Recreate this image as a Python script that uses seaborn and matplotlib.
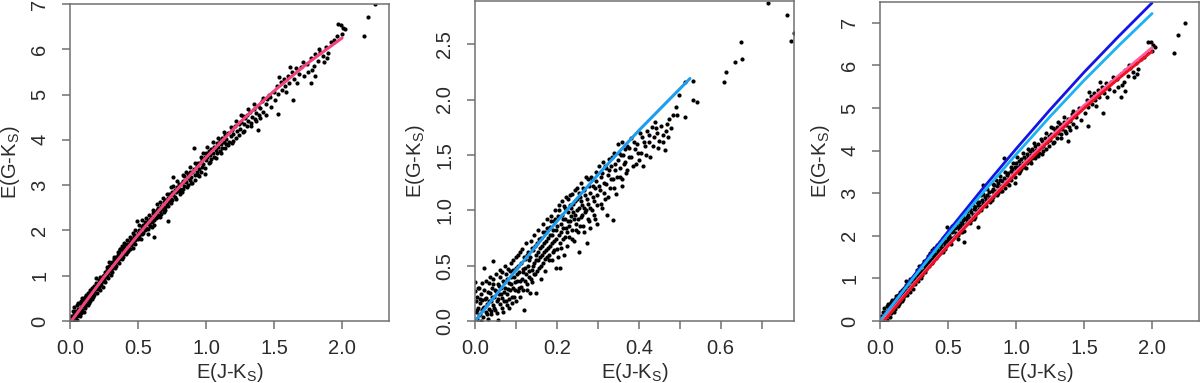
import matplotlib
matplotlib.use("Agg")
import matplotlib.pyplot as plt
import seaborn as sns
import pandas as pd

sns.set_style("ticks")
plt.rcParams["font.family"] = ["Liberation Sans", "DejaVu Sans"]
plt.rcParams["mathtext.default"] = "regular"

points_a = [
    (0.00, 0.05), (0.01, 0.12), (0.01, 0.00), (0.02, 0.22), (0.02, 0.03), (0.03, 0.15), (0.03, 0.30),
    (0.04, 0.08), (0.04, 0.21), (0.05, 0.35), (0.05, 0.12), (0.06, 0.27), (0.06, 0.18), (0.07, 0.40),
    (0.07, 0.22), (0.08, 0.31), (0.08, 0.45), (0.09, 0.25), (0.09, 0.38), (0.10, 0.47), (0.10, 0.33),
    (0.11, 0.52), (0.11, 0.38), (0.12, 0.44), (0.12, 0.58), (0.13, 0.50), (0.13, 0.36), (0.14, 0.62),
    (0.14, 0.49), (0.15, 0.55), (0.15, 0.68), (0.16, 0.60), (0.16, 0.48), (0.17, 0.73), (0.17, 0.63),
    (0.18, 0.78), (0.18, 0.66), (0.19, 0.72), (0.19, 0.85), (0.20, 0.70), (0.20, 0.82), (0.21, 0.91),
    (0.22, 0.80), (0.23, 0.95), (0.24, 0.88),
    (0.25, 1.02), (0.25, 0.90), (0.26, 1.08), (0.26, 0.97), (0.27, 1.12), (0.27, 0.99), (0.28, 1.05),
    (0.28, 1.18), (0.29, 1.10), (0.29, 1.22), (0.30, 1.13), (0.30, 1.28), (0.31, 1.18), (0.31, 1.31),
    (0.32, 1.20), (0.32, 1.36), (0.33, 1.27), (0.33, 1.16), (0.34, 1.33), (0.34, 1.42), (0.35, 1.30),
    (0.35, 1.45), (0.36, 1.38), (0.36, 1.52), (0.37, 1.40), (0.37, 1.58), (0.38, 1.45), (0.38, 1.36),
    (0.39, 1.55), (0.39, 1.62), (0.40, 1.50), (0.40, 1.66), (0.41, 1.57), (0.42, 1.52), (0.42, 1.70),
    (0.43, 1.64), (0.44, 1.75), (0.44, 1.60), (0.45, 1.80), (0.45, 1.68), (0.46, 1.72), (0.47, 1.85),
    (0.47, 1.90), (0.48, 1.78), (0.49, 2.20), (0.49, 1.88),
    (0.50, 1.95), (0.50, 1.82), (0.51, 2.02), (0.51, 1.88), (0.52, 1.96), (0.53, 2.08), (0.53, 1.92),
    (0.54, 2.12), (0.55, 2.00), (0.55, 2.18), (0.56, 2.06), (0.57, 2.20), (0.57, 2.03), (0.58, 2.15),
    (0.59, 2.25), (0.59, 2.10), (0.60, 2.30), (0.60, 2.18), (0.61, 2.38), (0.62, 2.24), (0.62, 1.86),
    (0.63, 2.40), (0.63, 2.28), (0.64, 2.45), (0.65, 2.35), (0.65, 2.50), (0.66, 2.42), (0.67, 2.55),
    (0.67, 2.36), (0.68, 2.48), (0.69, 2.62), (0.70, 2.52), (0.70, 2.68), (0.71, 2.58), (0.72, 2.72),
    (0.72, 2.20), (0.73, 2.64), (0.73, 2.80), (0.74, 2.70), (0.75, 2.85),
    (0.75, 2.68), (0.76, 2.78), (0.76, 3.19), (0.77, 2.90), (0.77, 2.74), (0.78, 2.84), (0.79, 2.95),
    (0.80, 2.86), (0.80, 3.02), (0.81, 2.92), (0.82, 3.05), (0.82, 2.84), (0.83, 3.10), (0.84, 2.98),
    (0.84, 3.20), (0.85, 3.06), (0.86, 3.16), (0.86, 2.95), (0.87, 3.25), (0.88, 3.12), (0.88, 3.30),
    (0.89, 3.18), (0.90, 3.05), (0.90, 3.28), (0.91, 3.82), (0.91, 3.36), (0.92, 3.22), (0.93, 3.42),
    (0.93, 3.30), (0.94, 3.48), (0.95, 3.35), (0.95, 3.20), (0.96, 3.52), (0.97, 3.40), (0.97, 3.58),
    (0.98, 3.46), (0.99, 3.62), (0.99, 3.38), (1.00, 3.55), (1.00, 3.70),
    (1.01, 3.62), (1.02, 3.48), (1.02, 3.75), (1.03, 3.66), (1.04, 3.80), (1.04, 3.58), (1.05, 3.72),
    (1.06, 3.85), (1.06, 3.62), (1.07, 3.78), (1.08, 3.92), (1.08, 3.70), (1.09, 3.84), (1.10, 3.98),
    (1.10, 3.76), (1.11, 3.90), (1.12, 4.05), (1.12, 3.82), (1.13, 3.96), (1.14, 4.10), (1.15, 3.90),
    (1.15, 4.02), (1.16, 4.15), (1.17, 3.95), (1.18, 4.08), (1.19, 4.22), (1.19, 3.92), (1.20, 4.12),
    (1.21, 4.30), (1.22, 4.05), (1.23, 4.20), (1.24, 4.35),
    (1.25, 4.25), (1.26, 4.40), (1.27, 4.52), (1.27, 4.18), (1.28, 4.36), (1.29, 4.48), (1.30, 4.30),
    (1.30, 4.55), (1.31, 4.42), (1.32, 4.62), (1.33, 4.38), (1.34, 4.50), (1.35, 4.68), (1.36, 4.45),
    (1.37, 4.60), (1.38, 4.75), (1.38, 4.22), (1.39, 4.55), (1.40, 4.70), (1.41, 4.85), (1.42, 4.62),
    (1.44, 4.80), (1.45, 4.90), (1.47, 4.95), (1.53, 4.58),
    (1.50, 5.05), (1.51, 4.88), (1.52, 5.20), (1.53, 5.02), (1.55, 5.28), (1.56, 5.10), (1.57, 5.35),
    (1.58, 5.18), (1.60, 5.42), (1.61, 5.25), (1.64, 4.88), (1.63, 5.50), (1.65, 5.35), (1.66, 5.58),
    (1.68, 5.45), (1.70, 5.60), (1.72, 5.40), (1.74, 5.68),
    (1.77, 5.26), (1.77, 5.80), (1.78, 5.55), (1.80, 5.41), (1.80, 5.90), (1.82, 5.75), (1.84, 5.95),
    (1.86, 5.85), (1.89, 5.80), (1.88, 6.05), (1.90, 5.92), (1.92, 6.15), (1.96, 6.30), (1.97, 6.56),
    (1.99, 6.54), (2.00, 6.33), (2.02, 6.44), (2.01, 6.48),
    (2.16, 6.29), (2.19, 6.72), (2.24, 7.00),
    (0.02, 0.10), (0.03, 0.00), (0.05, 0.02), (0.06, 0.40), (0.07, 0.10), (0.08, 0.18), (0.09, 0.50),
    (0.10, 0.20), (0.11, 0.28), (0.12, 0.35), (0.13, 0.62), (0.14, 0.40), (0.15, 0.45), (0.16, 0.72),
    (0.17, 0.52), (0.18, 0.58), (0.19, 0.95), (0.20, 0.62), (0.21, 0.75), (0.22, 0.98), (0.22, 0.68),
    (0.23, 0.82), (0.24, 1.00), (0.24, 0.76), (0.26, 0.86), (0.27, 1.20), (0.28, 0.95), (0.29, 1.30),
    (0.30, 1.02), (0.31, 1.08), (0.32, 1.42), (0.33, 1.36), (0.34, 1.22), (0.35, 1.52), (0.36, 1.28),
    (0.37, 1.60), (0.38, 1.66), (0.39, 1.42), (0.40, 1.72), (0.41, 1.48), (0.42, 1.78), (0.43, 1.55),
    (0.44, 1.86), (0.46, 1.62), (0.46, 1.95), (0.48, 2.00), (0.48, 1.70),
    (0.51, 2.12), (0.52, 1.80), (0.53, 2.22), (0.54, 1.95), (0.56, 2.28), (0.57, 1.92), (0.58, 2.35),
    (0.60, 2.08), (0.61, 2.45), (0.62, 2.12), (0.64, 2.58), (0.64, 2.30), (0.66, 2.62), (0.66, 2.30),
    (0.68, 2.72), (0.69, 2.40), (0.70, 2.45), (0.71, 2.80), (0.72, 2.55), (0.74, 2.95), (0.74, 2.60),
    (0.76, 2.98), (0.78, 2.70), (0.79, 3.10), (0.81, 2.80), (0.83, 3.22), (0.83, 2.92), (0.85, 3.30),
    (0.87, 3.00), (0.88, 3.40), (0.89, 3.05), (0.92, 3.50), (0.92, 3.12), (0.94, 3.22), (0.96, 3.62),
    (0.96, 3.30), (0.98, 3.72), (0.99, 3.25),
    (1.01, 3.85), (1.03, 3.52), (1.05, 3.95), (1.07, 3.60), (1.09, 4.05), (1.11, 3.70), (1.13, 4.18),
    (1.14, 3.82), (1.16, 3.88), (1.18, 4.28), (1.20, 3.98), (1.22, 4.42), (1.24, 4.10), (1.26, 4.55),
    (1.28, 4.20), (1.31, 4.68), (1.33, 4.30), (1.35, 4.80), (1.37, 4.42), (1.40, 4.48), (1.42, 4.92),
    (1.44, 4.55), (1.46, 5.00), (1.48, 4.72),
    (1.54, 5.38), (1.59, 5.05), (1.62, 5.60), (1.67, 5.25), (1.71, 5.72), (1.75, 5.50), (1.79, 5.62),
    (1.83, 6.00), (1.87, 5.72), (1.94, 6.20),
]

points_b = [
    (0.000, 0.35), (0.000, 0.27), (0.002, 0.18), (0.003, 0.08), (0.005, 0.02), (0.006, 0.22), (0.008, 0.12),
    (0.010, 0.05), (0.010, 0.30), (0.012, 0.16), (0.014, 0.00), (0.015, 0.24), (0.017, 0.10), (0.018, 0.19),
    (0.020, 0.04), (0.021, 0.28), (0.023, 0.13), (0.022, 0.48), (0.026, 0.08), (0.028, 0.21), (0.030, 0.15),
    (0.032, 0.02), (0.033, 0.34), (0.035, 0.11), (0.037, 0.25), (0.039, 0.18), (0.040, 0.06), (0.042, 0.30),
    (0.044, 0.14), (0.045, 0.38), (0.047, 0.22), (0.045, 0.54), (0.050, 0.10), (0.052, 0.27), (0.053, 0.18),
    (0.055, 0.33), (0.057, 0.01), (0.058, 0.24), (0.060, 0.40), (0.062, 0.15), (0.064, 0.30), (0.065, 0.21),
    (0.067, 0.44), (0.069, 0.08), (0.070, 0.35), (0.072, 0.26), (0.074, 0.50), (0.076, 0.18), (0.078, 0.38),
    (0.080, 0.29), (0.082, 0.12), (0.085, 0.45), (0.088, 0.33), (0.090, 0.22), (0.093, 0.55), (0.095, 0.40),
    (0.098, 0.28),
    (0.100, 0.48), (0.101, 0.18), (0.103, 0.36), (0.105, 0.60), (0.107, 0.30), (0.108, 0.44), (0.110, 0.22),
    (0.112, 0.52), (0.114, 0.38), (0.115, 0.65), (0.117, 0.28), (0.118, 0.47), (0.120, 0.10), (0.122, 0.56),
    (0.124, 0.42), (0.125, 0.70), (0.127, 0.33), (0.129, 0.50), (0.130, 0.62), (0.132, 0.40), (0.134, 0.25),
    (0.135, 0.58), (0.137, 0.72), (0.139, 0.46), (0.140, 0.35), (0.142, 0.64), (0.144, 0.52), (0.145, 0.78),
    (0.147, 0.42), (0.149, 0.60), (0.150, 0.25), (0.152, 0.70), (0.154, 0.55), (0.155, 0.82), (0.157, 0.48),
    (0.159, 0.66), (0.160, 0.38), (0.162, 0.75), (0.164, 0.60), (0.165, 0.88), (0.167, 0.52), (0.169, 0.70),
    (0.170, 0.45), (0.172, 0.80), (0.174, 0.64), (0.175, 0.92), (0.177, 0.58), (0.179, 0.75), (0.180, 0.55),
    (0.182, 0.85), (0.184, 0.68), (0.185, 0.95), (0.187, 0.55), (0.189, 0.78), (0.190, 0.62), (0.192, 0.90),
    (0.194, 0.72), (0.195, 1.00), (0.197, 0.48), (0.199, 0.82),
    (0.200, 0.65), (0.202, 0.95), (0.204, 0.78), (0.206, 1.05), (0.207, 0.48), (0.208, 0.70), (0.210, 0.88),
    (0.212, 1.08), (0.214, 0.74), (0.216, 0.92), (0.218, 0.60), (0.220, 1.02), (0.222, 0.84), (0.224, 0.68),
    (0.226, 1.10), (0.228, 0.90), (0.230, 0.76), (0.232, 1.05), (0.234, 0.95), (0.236, 0.82), (0.238, 1.15),
    (0.240, 0.98), (0.242, 0.72), (0.244, 1.08), (0.246, 0.88), (0.248, 1.20), (0.250, 1.00), (0.252, 0.80),
    (0.254, 0.62), (0.256, 1.12), (0.258, 0.94), (0.260, 1.25), (0.262, 1.05), (0.264, 0.86), (0.266, 1.18),
    (0.268, 0.98), (0.270, 1.30), (0.273, 0.70), (0.274, 1.10), (0.276, 0.92), (0.278, 1.22), (0.280, 1.02),
    (0.282, 0.84), (0.285, 1.28), (0.288, 1.12), (0.290, 0.96), (0.293, 1.20), (0.295, 1.35), (0.297, 1.05),
    (0.299, 0.88),
    (0.302, 1.40), (0.305, 1.18), (0.308, 1.30), (0.310, 1.02), (0.312, 1.44), (0.315, 1.25), (0.318, 1.10),
    (0.320, 1.38), (0.322, 0.96), (0.325, 1.32), (0.328, 1.46), (0.330, 1.20), (0.333, 1.40), (0.336, 0.91),
    (0.338, 1.28), (0.340, 1.52), (0.343, 1.36), (0.345, 1.15), (0.348, 1.45), (0.350, 1.60), (0.353, 1.30),
    (0.356, 1.50), (0.358, 1.22), (0.360, 1.62), (0.363, 1.42), (0.366, 1.55), (0.368, 1.34), (0.372, 1.58),
    (0.375, 1.48), (0.380, 1.65), (0.385, 1.40), (0.390, 1.55), (0.395, 1.60),
    (0.400, 1.45), (0.402, 1.70), (0.405, 1.52), (0.408, 1.66), (0.410, 1.40), (0.415, 1.58), (0.420, 1.72),
    (0.424, 1.62), (0.428, 1.48), (0.432, 1.75), (0.436, 1.66), (0.440, 1.80), (0.445, 1.70), (0.450, 1.63),
    (0.455, 1.76), (0.460, 1.68), (0.464, 1.54), (0.468, 1.78), (0.474, 1.82), (0.478, 1.74), (0.483, 1.86),
    (0.491, 1.93), (0.494, 1.86), (0.499, 2.04), (0.513, 2.16), (0.513, 1.84), (0.532, 2.17), (0.532, 2.00),
    (0.543, 1.98),
    (0.608, 2.16), (0.613, 2.25), (0.635, 2.34), (0.649, 2.52), (0.653, 2.37), (0.715, 2.875), (0.762, 2.76),
    (0.771, 2.53), (0.778, 2.60),
    (0.004, 0.10), (0.007, 0.30), (0.011, 0.20), (0.013, 0.06), (0.016, 0.34), (0.019, 0.12), (0.024, 0.20),
    (0.027, 0.36), (0.029, 0.06), (0.031, 0.26), (0.034, 0.18), (0.036, 0.40), (0.038, 0.09), (0.041, 0.22),
    (0.043, 0.33), (0.046, 0.12), (0.049, 0.28), (0.051, 0.42), (0.054, 0.07), (0.056, 0.20), (0.059, 0.32),
    (0.061, 0.46), (0.063, 0.24), (0.066, 0.12), (0.068, 0.36), (0.071, 0.18), (0.073, 0.30), (0.075, 0.42),
    (0.077, 0.24), (0.079, 0.14), (0.081, 0.47), (0.083, 0.34), (0.084, 0.20), (0.086, 0.28), (0.087, 0.52),
    (0.089, 0.40), (0.091, 0.16), (0.092, 0.30), (0.094, 0.46), (0.096, 0.22), (0.097, 0.35), (0.099, 0.58),
    (0.102, 0.42), (0.104, 0.27), (0.106, 0.50), (0.109, 0.36), (0.111, 0.62), (0.113, 0.31), (0.116, 0.44),
    (0.119, 0.58), (0.121, 0.36), (0.123, 0.48), (0.126, 0.28), (0.128, 0.60), (0.131, 0.45), (0.133, 0.55),
    (0.136, 0.38), (0.138, 0.66), (0.141, 0.50), (0.143, 0.42), (0.146, 0.68), (0.148, 0.55), (0.151, 0.45),
    (0.153, 0.62), (0.156, 0.74), (0.158, 0.58), (0.161, 0.50), (0.163, 0.68), (0.166, 0.80), (0.168, 0.62),
    (0.171, 0.56), (0.173, 0.72), (0.176, 0.84), (0.178, 0.66), (0.181, 0.60), (0.183, 0.78), (0.186, 0.90),
    (0.188, 0.70), (0.191, 0.82), (0.193, 0.64), (0.196, 0.92), (0.198, 0.74),
    (0.201, 0.86), (0.203, 0.58), (0.205, 1.00), (0.209, 0.80), (0.211, 0.66), (0.213, 0.96), (0.215, 0.84),
    (0.217, 1.04), (0.219, 0.76), (0.221, 0.92), (0.223, 1.12), (0.225, 0.80), (0.227, 0.98), (0.229, 0.86),
    (0.231, 1.14), (0.233, 0.90), (0.235, 1.02), (0.237, 0.74), (0.239, 1.06), (0.241, 0.92), (0.243, 1.18),
    (0.245, 0.96), (0.247, 0.82), (0.249, 1.10), (0.251, 0.92), (0.253, 1.16), (0.255, 1.02), (0.257, 0.86),
    (0.259, 1.08), (0.261, 0.96), (0.263, 1.20), (0.265, 1.02), (0.267, 0.80), (0.269, 1.14), (0.271, 1.00),
    (0.275, 1.28), (0.277, 1.06), (0.279, 0.90), (0.281, 1.16), (0.283, 1.30), (0.286, 1.00), (0.289, 1.22),
    (0.291, 1.08), (0.294, 0.92), (0.296, 1.26), (0.298, 1.14),
    (0.303, 1.22), (0.307, 1.06), (0.311, 1.34), (0.314, 1.16), (0.317, 1.40), (0.321, 1.24), (0.324, 1.12),
    (0.327, 1.36), (0.331, 1.28), (0.335, 1.48), (0.339, 1.20), (0.342, 1.42), (0.346, 1.30), (0.352, 1.52),
    (0.355, 1.38), (0.359, 1.28), (0.362, 1.50), (0.367, 1.44), (0.371, 1.36), (0.377, 1.56), (0.382, 1.48),
    (0.388, 1.62), (0.393, 1.42), (0.398, 1.52),
    (0.412, 1.62), (0.418, 1.50), (0.426, 1.68), (0.434, 1.58), (0.442, 1.74), (0.448, 1.56), (0.458, 1.62),
    (0.466, 1.72), (0.472, 1.66),
]

# fitted relations, read at a few abscissae
fit1_x = [0.01, 0.25, 0.5, 0.75, 1.0, 1.25, 1.5, 1.75, 2.0]
fit1_y = [0.0, 0.97, 1.90, 2.78, 3.61, 4.39, 5.08, 5.70, 6.25]

fit2_x = [0.0, 0.1, 0.2, 0.3, 0.4, 0.525]
fit2_y = [0.0, 0.46, 0.90, 1.32, 1.72, 2.19]

law_x = [0.0, 0.25, 0.5, 0.75, 1.0, 1.25, 1.5, 1.75, 2.0]
law_dark = [0.0, 1.07, 2.10, 3.09, 4.04, 4.96, 5.84, 6.67, 7.47]
law_light = [0.0, 1.03, 2.03, 2.99, 3.91, 4.80, 5.65, 6.45, 7.22]
law_pink_x = [0.02, 0.25, 0.5, 0.75, 1.0, 1.25, 1.5, 1.75, 2.0]
law_pink = [0.0, 0.88, 1.79, 2.67, 3.51, 4.31, 5.06, 5.75, 6.42]
law_red_x = [0.03, 0.25, 0.5, 0.75, 1.0, 1.25, 1.5, 1.75, 2.0]
law_red = [0.0, 0.85, 1.76, 2.63, 3.46, 4.25, 4.99, 5.68, 6.33]

df_a = pd.DataFrame(points_a, columns=["jk", "gk"])
df_b = pd.DataFrame(points_b, columns=["jk", "gk"])

txt = "#2b2b2b"
edge = "#707070"
xlab = r"E(J-K$_S$)"
ylab = r"E(G-K$_S$)"


def style_axes(ax, xlim, ylim, xticks, xlabels, yticks, ylabels):
    ax.set_xlim(*xlim)
    ax.set_ylim(*ylim)
    ax.set_xticks(xticks)
    ax.set_xticklabels(xlabels)
    ax.set_yticks(yticks)
    ax.set_yticklabels(ylabels, rotation=90, va="center")
    for s in ax.spines.values():
        s.set_visible(True)
        s.set_color(edge)
        s.set_linewidth(1.1)
    ax.tick_params(axis="both", direction="out", length=6, width=1.1, color=edge,
                   labelsize=14.5, labelcolor=txt)
    ax.tick_params(axis="x", pad=7)
    ax.tick_params(axis="y", pad=9)
    ax.set_xlabel(xlab, fontsize=14.5, color=txt)
    ax.set_ylabel(ylab, fontsize=14.5, color=txt)
    ax.xaxis.set_label_coords(0.5, -0.125)
    ax.yaxis.set_label_coords(-0.152, 0.5)


fig = plt.figure(figsize=(12, 3.83), dpi=100)
ax1 = fig.add_axes([70 / 1200, 62 / 383, 319 / 1200, 317 / 383])
ax2 = fig.add_axes([475 / 1200, 62 / 383, 319 / 1200, 320 / 383])
ax3 = fig.add_axes([880 / 1200, 62 / 383, 319 / 1200, 319 / 383])

# panel 1
sns.scatterplot(data=df_a, x="jk", y="gk", ax=ax1, color="black", s=9, linewidth=0)
sns.lineplot(x=fit1_x, y=fit1_y, ax=ax1, color="#F2437F", linewidth=2.2, estimator=None)
style_axes(ax1, (0, 2.345), (0, 7.0),
           [0, 0.5, 1.0, 1.5, 2.0], ["0.0", "0.5", "1.0", "1.5", "2.0"],
           list(range(8)), [str(i) for i in range(8)])

# panel 2
sns.scatterplot(data=df_b, x="jk", y="gk", ax=ax2, color="black", s=9, linewidth=0)
sns.lineplot(x=fit2_x, y=fit2_y, ax=ax2, color="#1E9CF0", linewidth=2.2, estimator=None)
style_axes(ax2, (0, 0.779), (0, 2.89),
           [0, 0.1, 0.2, 0.3, 0.4, 0.5, 0.6, 0.7], ["0.0", "", "0.2", "", "0.4", "", "0.6", ""],
           [0, 0.5, 1.0, 1.5, 2.0, 2.5], ["0.0", "0.5", "1.0", "1.5", "2.0", "2.5"])

# panel 3
sns.scatterplot(data=df_a, x="jk", y="gk", ax=ax3, color="black", s=9, linewidth=0)
sns.lineplot(x=law_x, y=law_dark, ax=ax3, color="#1414E6", linewidth=2.0, estimator=None)
sns.lineplot(x=law_x, y=law_light, ax=ax3, color="#1AB2F0", linewidth=2.0, estimator=None)
sns.lineplot(x=law_pink_x, y=law_pink, ax=ax3, color="#FF5C9E", linewidth=2.0, estimator=None)
sns.lineplot(x=law_red_x, y=law_red, ax=ax3, color="#F01020", linewidth=2.0, estimator=None)
style_axes(ax3, (0, 2.345), (0, 7.49),
           [0, 0.5, 1.0, 1.5, 2.0], ["0.0", "0.5", "1.0", "1.5", "2.0"],
           list(range(8)), [str(i) for i in range(8)])

fig.savefig("out.png", dpi=100)
